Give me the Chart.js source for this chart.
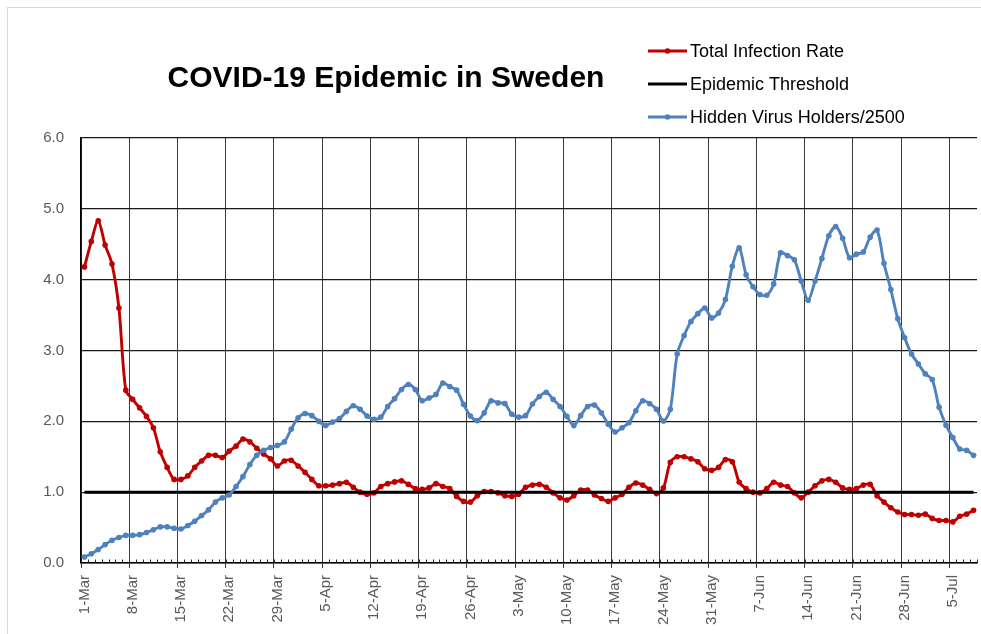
<!DOCTYPE html>
<html>
<head>
<meta charset="utf-8">
<script src="https://cdn.jsdelivr.net/npm/chart.js@4.4.1/dist/chart.umd.min.js"></script>
<style>
  html, body { margin: 0; padding: 0; background: #ffffff; overflow: hidden; }
  #wrap { position: relative; width: 981px; height: 634px; }
  #frame { position: absolute; left: 7px; top: 7px; width: 1200px; height: 1200px; border: 1px solid #d9d9d9; box-sizing: border-box; }
  canvas { position: absolute; left: 0; top: 0; }
</style>
</head>
<body>
<div id="wrap">
  <div id="frame"></div>
  <canvas id="c" width="981" height="634"></canvas>
</div>
<script>
// ---- Data ----
const chartTitle = 'COVID-19 Epidemic in Sweden';
const monthSpans = [['Mar', 31], ['Apr', 30], ['May', 31], ['Jun', 30], ['Jul', 8]];
const tickLabels = ['1-Mar','8-Mar','15-Mar','22-Mar','29-Mar','5-Apr','12-Apr','19-Apr','26-Apr','3-May','10-May','17-May','24-May','31-May','7-Jun','14-Jun','21-Jun','28-Jun','5-Jul'];
const yTicks = [0, 1, 2, 3, 4, 5, 6];

const seriesNames = ['Total Infection Rate', 'Epidemic Threshold', 'Hidden Virus Holders/2500'];

const infectionRate = [
  4.18, 4.54, 4.83, 4.49, 4.22, 3.60, 2.44, 2.31, 2.19, 2.07,
  1.91, 1.57, 1.35, 1.18, 1.18, 1.23, 1.35, 1.44, 1.52, 1.52,
  1.49, 1.58, 1.65, 1.75, 1.71, 1.62, 1.54, 1.47, 1.37, 1.44,
  1.45, 1.37, 1.28, 1.18, 1.09, 1.09, 1.10, 1.12, 1.14, 1.07,
  1.00, 0.97, 0.99, 1.08, 1.12, 1.145, 1.16, 1.11, 1.05, 1.04,
  1.06, 1.12, 1.08, 1.05, 0.94, 0.87, 0.86, 0.95, 1.01, 1.01,
  0.99, 0.95, 0.94, 0.97, 1.07, 1.10, 1.11, 1.07, 0.99, 0.92,
  0.89, 0.95, 1.03, 1.03, 0.96, 0.91, 0.87, 0.92, 0.97, 1.07,
  1.13, 1.10, 1.04, 0.98, 1.06, 1.42, 1.50, 1.50, 1.47, 1.43,
  1.33, 1.31, 1.35, 1.46, 1.43, 1.14, 1.05, 1.00, 0.99, 1.05,
  1.14, 1.10, 1.08, 0.99, 0.92, 1.00, 1.09, 1.16, 1.18, 1.14,
  1.06, 1.04, 1.05, 1.10, 1.11, 0.95, 0.86, 0.78, 0.72, 0.685,
  0.685, 0.675, 0.69, 0.63, 0.60, 0.60, 0.58, 0.66, 0.69, 0.745
];

const epidemicThreshold = [
  1,1,1,1,1,1,1,1,1,1, 1,1,1,1,1,1,1,1,1,1, 1,1,1,1,1,1,1,1,1,1,
  1,1,1,1,1,1,1,1,1,1, 1,1,1,1,1,1,1,1,1,1, 1,1,1,1,1,1,1,1,1,1,
  1,1,1,1,1,1,1,1,1,1, 1,1,1,1,1,1,1,1,1,1, 1,1,1,1,1,1,1,1,1,1,
  1,1,1,1,1,1,1,1,1,1, 1,1,1,1,1,1,1,1,1,1, 1,1,1,1,1,1,1,1,1,1,
  1,1,1,1,1,1,1,1,1,1
];

const hiddenHolders = [
  0.085, 0.13, 0.19, 0.26, 0.32, 0.36, 0.39, 0.39, 0.40, 0.43,
  0.47, 0.51, 0.51, 0.49, 0.48, 0.53, 0.59, 0.67, 0.75, 0.86,
  0.92, 0.96, 1.08, 1.22, 1.39, 1.52, 1.59, 1.63, 1.66, 1.71,
  1.89, 2.05, 2.11, 2.08, 2.00, 1.94, 1.99, 2.04, 2.14, 2.22,
  2.17, 2.075, 2.03, 2.06, 2.21, 2.32, 2.45, 2.52, 2.45, 2.29,
  2.33, 2.38, 2.54, 2.49, 2.44, 2.24, 2.075, 2.01, 2.12, 2.29,
  2.26, 2.25, 2.10, 2.06, 2.08, 2.245, 2.35, 2.41, 2.31, 2.21,
  2.07, 1.94, 2.08, 2.21, 2.23, 2.12, 1.96, 1.85, 1.91, 1.98,
  2.15, 2.29, 2.25, 2.17, 2.005, 2.17, 2.95, 3.21, 3.41, 3.52,
  3.60, 3.46, 3.53, 3.72, 4.19, 4.45, 4.07, 3.90, 3.79, 3.78,
  3.94, 4.38, 4.34, 4.28, 3.98, 3.71, 3.98, 4.30, 4.62, 4.75,
  4.585, 4.31, 4.36, 4.39, 4.60, 4.70, 4.23, 3.86, 3.45, 3.18,
  2.95, 2.81, 2.67, 2.59, 2.20, 1.945, 1.77, 1.61, 1.59, 1.52
];

// ---- Categories (one per day) ----
const dayLabels = [];
for (const [m, n] of monthSpans) {
  for (let d = 1; d <= n; d++) dayLabels.push(d + '-' + m);
}

const RED = '#C00000', BLUE = '#4F81BD', BLACK = '#000000';
const FONT = "'Liberation Sans', Arial, sans-serif";

const decorPlugin = {
  id: 'decor',
  afterDraw(chart) {
    const ctx = chart.ctx;
    const xs = chart.scales.x;
    const area = chart.chartArea;
    // minor inward ticks at each day boundary
    const step = xs.getPixelForValue(1) - xs.getPixelForValue(0);
    ctx.save();
    ctx.strokeStyle = '#262626';
    ctx.lineWidth = 1;
    ctx.beginPath();
    for (let i = 0; i <= dayLabels.length; i++) {
      const x = Math.round(xs.getPixelForValue(0) + (i - 0.5) * step) + 0.5;
      ctx.moveTo(x, area.bottom);
      ctx.lineTo(x, area.bottom - 3.5);
    }
    ctx.stroke();

    // title
    ctx.fillStyle = '#000';
    ctx.font = "bold 30px " + FONT;
    ctx.textAlign = 'center';
    ctx.textBaseline = 'middle';
    ctx.fillText(chartTitle, 386, 79);

    // legend
    const rows = [51, 84, 117];
    const colors = [RED, BLACK, BLUE];
    const markers = [true, false, true];
    ctx.font = "18px " + FONT;
    ctx.textAlign = 'left';
    for (let i = 0; i < 3; i++) {
      const y = rows[i];
      ctx.strokeStyle = colors[i];
      ctx.lineWidth = i === 1 ? 3 : 2.8;
      ctx.beginPath();
      ctx.moveTo(648, y);
      ctx.lineTo(687, y);
      ctx.stroke();
      if (markers[i]) {
        ctx.fillStyle = colors[i];
        ctx.beginPath();
        ctx.arc(667.5, y, 2.8, 0, Math.PI * 2);
        ctx.fill();
      }
      ctx.fillStyle = '#000';
      ctx.fillText(seriesNames[i], 690, y + 1);
    }
    ctx.restore();
  }
};

new Chart(document.getElementById('c'), {
  type: 'line',
  data: {
    labels: dayLabels,
    datasets: [
      {
        label: seriesNames[0], data: infectionRate, order: 3,
        borderColor: RED, backgroundColor: RED, borderWidth: 2.9,
        pointRadius: 2.8, pointBorderWidth: 0, pointBackgroundColor: RED,
        tension: 0.3, fill: false
      },
      {
        label: seriesNames[1], data: epidemicThreshold, order: 2,
        borderColor: BLACK, backgroundColor: BLACK, borderWidth: 3,
        pointRadius: 0, tension: 0, fill: false
      },
      {
        label: seriesNames[2], data: hiddenHolders, order: 1,
        borderColor: BLUE, backgroundColor: BLUE, borderWidth: 2.9,
        pointRadius: 2.8, pointBorderWidth: 0, pointBackgroundColor: BLUE,
        tension: 0.3, fill: false
      }
    ]
  },
  options: {
    responsive: false,
    animation: false,
    devicePixelRatio: 1,
    layout: { padding: { left: 0, top: 138, right: 4, bottom: 0 } },
    plugins: {
      legend: { display: false },
      title: { display: false },
      tooltip: { enabled: false }
    },
    scales: {
      x: {
        type: 'category',
        offset: true,
        grid: {
          offset: true,
          color: (c) => (c.index !== undefined && c.index % 7 === 0) ? '#3a3a3a' : 'rgba(0,0,0,0)',
          tickColor: (c) => (c.index !== undefined && c.index % 7 === 0) ? '#3a3a3a' : 'rgba(0,0,0,0)',
          tickLength: 5,
          lineWidth: 1
        },
        border: { display: true, color: '#000', width: 1.5 },
        ticks: {
          autoSkip: false,
          minRotation: 90,
          maxRotation: 90,
          padding: 7,
          color: '#595959',
          font: { family: FONT, size: 15 },
          callback: function (val, idx) {
            return idx % 7 === 0 ? tickLabels[idx / 7] : '';
          }
        },
        afterFit: (s) => { s.height = 71; s.paddingLeft = 0; s.paddingRight = 0; }
      },
      y: {
        min: 0, max: 6,
        afterBuildTicks: (s) => { s.ticks = yTicks.map(v => ({ value: v })); },
        grid: { color: '#1a1a1a', lineWidth: 1.2, drawTicks: false },
        border: { display: true, color: '#000', width: 1.5 },
        ticks: {
          padding: 17,
          color: '#595959',
          font: { family: FONT, size: 15 },
          callback: (v) => Number(v).toFixed(1)
        },
        afterFit: (s) => { s.width = 81; s.paddingTop = 0; s.paddingBottom = 0; }
      }
    }
  },
  plugins: [decorPlugin]
});
</script>
</body>
</html>
